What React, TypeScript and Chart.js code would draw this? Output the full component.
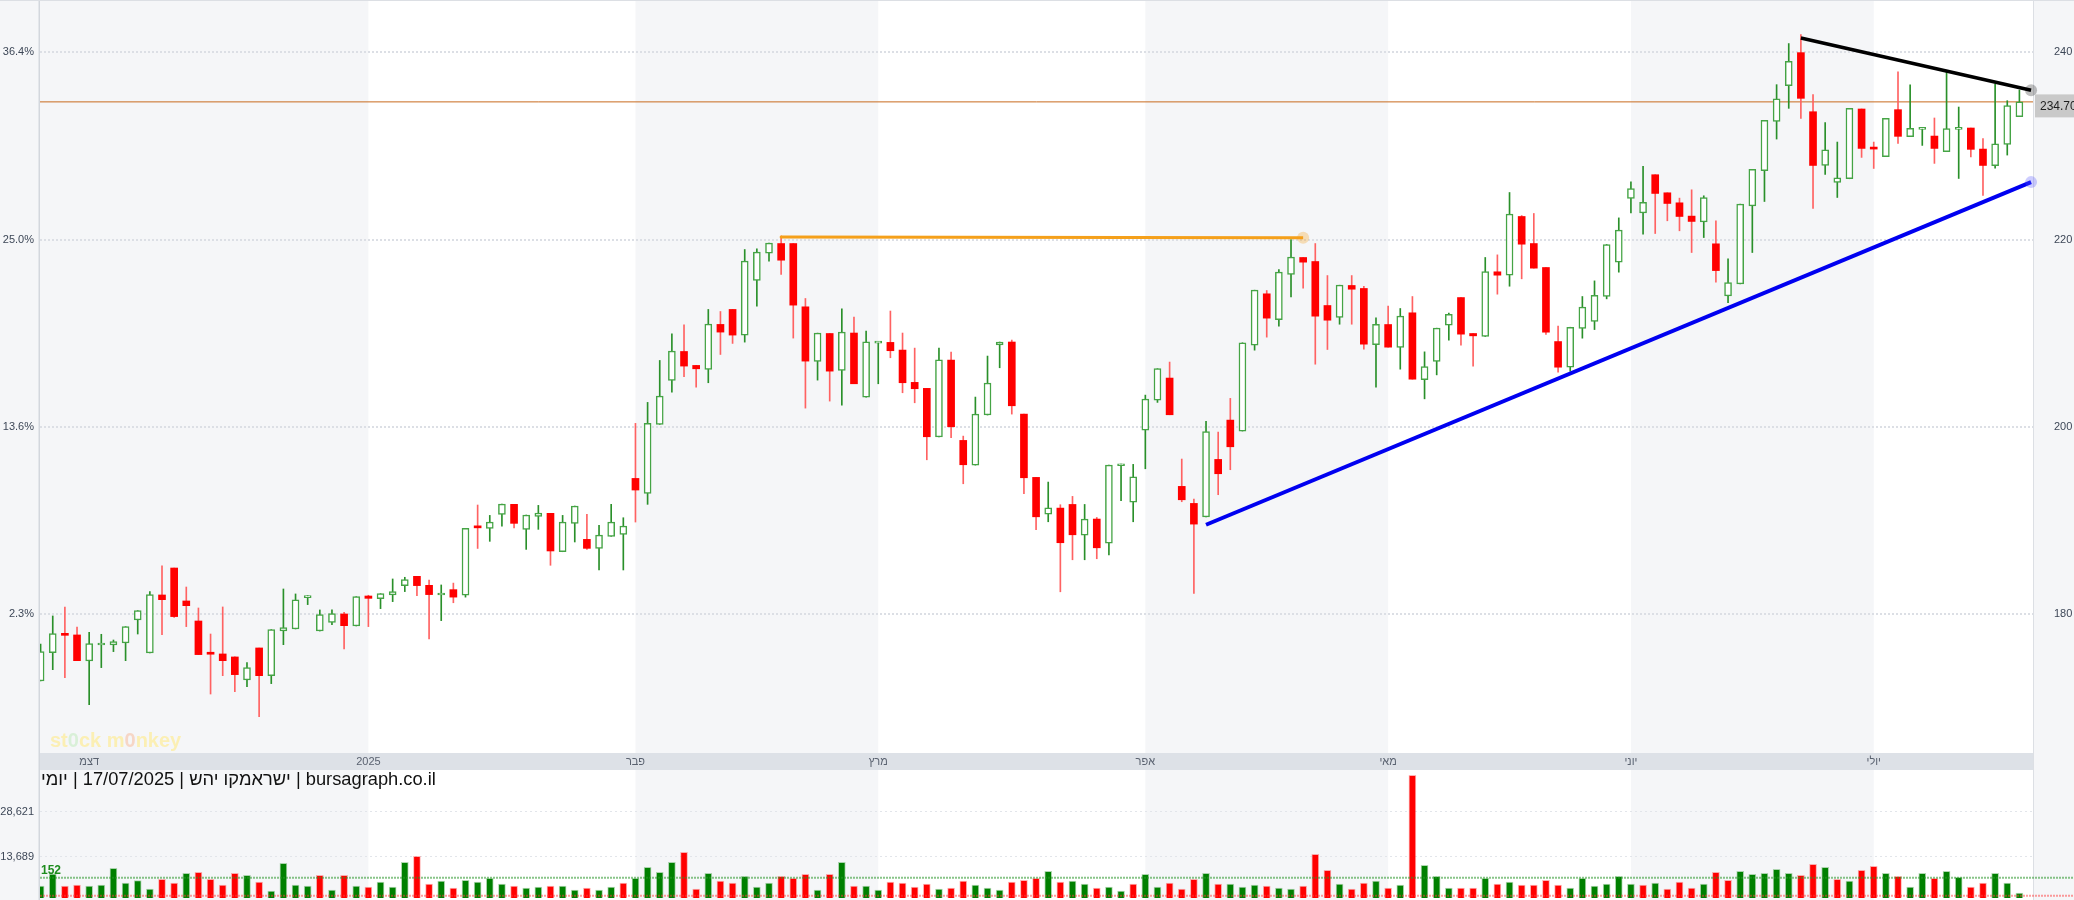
import React, { useEffect, useRef } from "react";
import { Chart, registerables } from "chart.js";

Chart.register(...registerables);

const FONT = "'Liberation Sans', Arial, 'DejaVu Sans', sans-serif";

// ---- data (daily candles, index 0 = late Nov 2024, last = 17/07/2025) ----
const OPEN = [172.84,175.87,177.86,177.76,174.98,176.69,176.69,176.90,179.36,175.83,
182.03,184.91,181.39,179.25,175.76,175.73,175.41,172.95,176.37,173.41,
178.18,178.40,181.75,178.18,179.11,180.00,178.72,181.92,181.64,182.03,
183.03,184.02,183.06,182.03,182.60,182.00,189.30,189.15,190.64,191.71,
189.04,190.43,190.75,186.65,189.68,187.97,187.01,188.29,188.50,194.48,
192.88,200.25,204.95,208.04,206.55,206.12,210.93,212.53,209.79,215.62,
218.54,219.57,219.57,212.81,206.98,209.96,206.01,210.01,203.17,208.94,
209.01,208.19,204.74,204.10,198.90,207.12,198.54,195.90,201.25,208.73,
209.05,201.35,194.59,190.67,191.31,191.70,188.43,190.14,187.57,195.83,
191.95,199.64,202.85,205.20,193.63,191.81,190.38,196.51,200.71,199.54,
208.71,214.20,211.45,216.26,218.08,217.65,212.95,211.67,215.09,214.77,
208.78,210.92,208.46,212.17,205.04,206.97,210.85,213.80,209.96,209.64,
216.55,216.19,222.46,219.57,217.01,209.10,206.36,210.49,211.24,213.91,
217.58,224.38,222.85,226.92,224.99,223.92,222.50,221.89,219.54,213.98,
215.26,223.60,227.34,232.62,236.43,239.96,233.65,227.91,226.10,226.49,
233.94,229.80,228.84,233.87,230.98,231.76,231.05,229.38,231.76,231.91,
229.66,227.88,230.16,233.12];

const HIGH = [176.79,179.79,180.75,178.61,178.04,177.83,177.22,178.65,180.36,182.39,
185.13,184.91,182.88,180.64,177.86,180.75,175.41,174.80,176.37,178.33,
182.67,182.14,181.96,180.43,180.43,180.18,181.85,182.00,182.17,183.74,
183.92,184.02,183.63,183.10,183.30,189.15,191.64,190.53,191.74,191.71,
190.57,191.60,190.75,190.53,191.53,190.64,189.47,191.71,190.28,200.36,
202.60,207.08,209.93,210.89,206.55,212.53,212.31,212.53,218.93,219.00,
219.61,220.36,219.57,213.70,210.00,209.96,212.60,211.72,210.22,209.05,
212.36,210.01,208.40,204.10,208.40,207.98,199.00,203.17,207.55,209.05,
209.26,201.35,194.59,194.09,191.67,192.56,191.70,190.31,195.90,196.01,
195.98,203.38,206.20,206.91,196.55,192.27,200.57,199.43,203.03,208.97,
214.59,214.55,216.79,220.00,218.08,219.57,216.15,215.12,216.15,215.01,
211.63,212.88,212.63,213.91,208.00,210.53,212.13,213.80,209.96,218.08,
218.36,225.02,222.56,222.78,217.01,210.74,210.63,213.91,215.58,219.47,
222.31,226.16,227.81,226.92,224.99,224.42,225.31,224.67,222.00,217.93,
223.78,227.49,232.73,236.54,240.93,241.89,235.47,232.48,230.41,234.01,
233.94,230.41,232.94,237.90,236.51,231.98,232.98,237.86,234.15,231.91,
230.77,236.61,234.83,235.97];

const LOW = [172.84,174.05,173.20,175.01,170.31,174.27,175.98,175.01,177.86,175.83,
177.79,179.64,178.65,175.66,171.45,173.41,171.70,172.24,169.03,172.56,
176.72,178.40,181.00,178.18,178.86,176.26,178.72,178.65,180.57,181.32,
182.39,181.96,177.33,179.29,181.20,181.80,187.00,187.76,189.39,189.18,
186.90,189.04,185.20,186.65,187.69,186.90,184.70,188.29,184.70,189.82,
191.71,200.25,203.70,205.34,204.23,204.70,207.72,208.90,209.04,212.88,
217.69,216.26,209.47,201.99,204.98,202.74,202.31,204.59,203.17,204.59,
207.37,203.63,202.56,196.47,198.90,198.82,193.91,195.90,201.25,206.30,
201.35,192.84,189.00,189.85,182.37,185.79,185.79,185.90,186.32,192.09,
189.85,195.51,202.60,201.28,191.99,182.19,190.38,192.74,195.41,199.54,
208.18,209.57,210.74,213.87,214.80,206.68,208.25,210.95,210.95,208.28,
204.22,208.50,206.15,205.08,202.98,205.54,209.25,208.71,206.47,209.64,
214.16,215.01,215.80,216.94,209.85,205.83,205.93,209.46,210.38,213.66,
216.51,222.85,220.57,220.64,222.00,220.93,218.61,220.21,215.44,213.26,
215.26,218.61,224.06,230.73,234.01,232.94,223.32,226.95,224.49,226.49,
228.77,227.59,228.84,230.27,230.98,230.05,228.13,229.38,226.52,228.81,
224.71,227.63,229.02,233.12];

const CLOSE = [175.98,177.90,177.72,175.01,176.83,176.83,177.04,178.65,180.36,182.07,
181.53,179.72,180.89,175.66,175.70,175.01,173.52,174.27,173.41,178.33,
178.54,181.50,181.85,179.93,180.04,178.75,181.85,181.67,182.17,182.39,
183.67,183.03,182.07,182.17,181.80,189.15,189.20,189.82,191.74,189.68,
190.57,190.78,186.73,189.82,191.53,187.01,188.43,189.82,189.40,193.24,
200.36,203.27,208.08,206.48,206.19,210.96,210.11,209.79,217.69,218.65,
219.61,217.79,212.99,207.01,210.00,205.94,210.11,204.59,209.08,209.05,
208.12,204.70,204.06,198.93,207.16,200.00,195.94,201.35,204.67,209.05,
202.24,194.55,190.38,191.35,187.61,188.46,190.14,187.07,195.90,196.01,
194.66,202.96,206.20,201.28,192.20,189.60,199.47,194.98,197.86,208.97,
214.59,211.60,216.51,218.11,217.58,211.81,211.38,215.12,214.69,208.82,
210.95,208.50,211.81,205.08,206.43,210.53,212.02,209.89,209.71,216.58,
216.19,222.71,219.50,216.94,210.10,206.36,210.63,212.77,214.05,219.47,
221.00,225.45,223.96,224.92,223.85,222.46,221.93,224.49,216.68,215.40,
223.78,227.49,232.73,235.04,239.04,235.08,227.91,229.59,226.60,234.01,
229.73,229.66,232.94,231.02,231.87,231.98,229.73,231.84,231.98,229.63,
227.91,230.23,234.30,234.70];

const VOLUME = [3970,7950,3970,4300,3970,4300,9830,4970,5740,2980,
6180,4970,8170,8500,6180,4300,8170,7510,5300,2310,
11490,4300,3970,7510,2640,7510,3970,3640,5300,3640,
11820,13810,4640,5630,3310,5850,5300,6510,4640,3970,
3310,3640,3970,3970,2640,3310,2640,3640,4970,6510,
10160,8500,11820,15140,2980,8170,5630,4970,7180,3640,
4970,7180,6510,7840,2640,7840,11820,3970,3970,2640,
5300,4970,3640,4640,2980,3310,5630,4300,3310,2640,
5300,5850,6510,8840,5300,5630,4640,3310,3640,2310,
4640,7840,3640,4970,2980,6180,8170,4640,4640,3640,
4300,3970,3310,2980,3970,14480,9170,4640,2980,4970,
5630,3310,4300,40690,10830,7180,3310,3310,3310,6510,
4640,5300,4300,4300,5850,4300,3310,6510,3970,4640,
7180,4640,4300,4970,2980,5300,3310,4640,8500,5850,
8840,7840,8170,9500,8170,7510,11160,10160,6180,5630,
9170,10500,8170,7180,3640,8170,6510,8840,6850,3640,
4970,8170,4970,1650];

// volume bar colour: g = close above previous close, r = below
const VOLUME_DIR = ("ggrrgggggg" + "rrgrrrrgrg" + "gggrgrgrgg" + "grrgrggggr" + "ggrggrggrg" +
  "gggrrgrrgg" + "grrrgrgrgg" + "rrrrgrrggg" + "rrrgrggrgg" + "rggrrrgrgg" + "grggrrrgrr" +
  "grgrgggrrg" + "rgrrrrgggg" + "ggrgrrrgrr" + "gggggrrgrg" + "rrgrggrggr" + "rggg").split("");

const MONTH_TICKS = [4, 27, 49, 69, 91, 111, 131, 151];
const MONTH_LABELS = ["דצמ", "2025", "פבר", "מרץ", "אפר", "מאי", "יוני", "יולי"];
const SHADED_MONTHS = [[-1, 27], [49, 69], [91, 111], [131, 151]];
const PRICE_TICKS = [180, 200, 220, 240];
const BASE_PRICE = 176;
const VOLUME_TICKS = [13689, 28621];
const LAST_PRICE = 234.7;
const VOLUME_AVG = 6735;
const VOLUME_LOW = 760;
const ORANGE_LINE = [{ x: 61, y: 220.28 }, { x: 104, y: 220.2 }];
const BLUE_LINE = [{ x: 96, y: 189.53 }, { x: 163.96, y: 226.13 }];
const BLACK_LINE = [{ x: 145, y: 241.53 }, { x: 163.96, y: 235.94 }];

const X_MIN = -0.05;
const X_MAX = 164.12;

const SHADE = "#f5f6f8";
const STRIP = "#dde1e7";
const AXIS_TEXT = "#3d4757";

function paintBackground(chart: any, bottom: number) {
  const { ctx, chartArea: ca, scales } = chart;
  const x = scales.x;
  ctx.save();
  ctx.fillStyle = SHADE;
  ctx.fillRect(0, 0, chart.width, chart.height);
  ctx.fillStyle = "#ffffff";
  ctx.fillRect(ca.left, 0, ca.right - ca.left, bottom);
  ctx.fillStyle = SHADE;
  for (const [a, b] of SHADED_MONTHS) {
    const x1 = Math.max(ca.left, x.getPixelForValue(a));
    const x2 = Math.min(ca.right, x.getPixelForValue(b));
    if (x2 > x1) ctx.fillRect(x1, 0, x2 - x1, bottom);
  }
  ctx.fillStyle = "#d3d7dd";
  ctx.fillRect(ca.left - 1.5, 0, 1.5, chart.height);
  ctx.fillStyle = "#dcdfe4";
  ctx.fillRect(ca.right, 0, 1, chart.height);
  ctx.restore();
}

function noPad(s: any) {
  s.paddingTop = 0;
  s.paddingBottom = 0;
  s.paddingLeft = 0;
  s.paddingRight = 0;
}

export default function App() {
  const priceRef = useRef<HTMLCanvasElement>(null);
  const volRef = useRef<HTMLCanvasElement>(null);

  useEffect(() => {
    Chart.defaults.font.family = FONT;
    const idx = CLOSE.map((_, i) => i);
    const up = idx.map((i) => CLOSE[i] >= OPEN[i]);

    const priceBg = {
      id: "priceBg",
      beforeDraw(chart: any) {
        paintBackground(chart, chart.chartArea.bottom);
        const { ctx } = chart;
        ctx.save();
        ctx.fillStyle = "#dcdfe4";
        ctx.fillRect(0, 0, chart.width, 1);
        ctx.restore();
      },
      beforeDatasetsDraw(chart: any) {
        const { ctx, chartArea: ca, scales } = chart;
        const y = scales.y.getPixelForValue(LAST_PRICE);
        ctx.save();
        ctx.strokeStyle = "#c86a1e";
        ctx.lineWidth = 1;
        ctx.beginPath();
        ctx.moveTo(ca.left, y);
        ctx.lineTo(ca.right, y);
        ctx.stroke();
        ctx.restore();
      },
      afterDraw(chart: any) {
        const { ctx, chartArea: ca, scales } = chart;
        const y = scales.y.getPixelForValue(LAST_PRICE);
        ctx.save();
        ctx.fillStyle = "#c9c9c9";
        ctx.fillRect(ca.right + 2, y - 7.5, chart.width - ca.right - 2, 23);
        ctx.fillStyle = "#1f1f1f";
        ctx.font = "12px " + FONT;
        ctx.textAlign = "left";
        ctx.textBaseline = "middle";
        ctx.fillText(LAST_PRICE.toFixed(2), ca.right + 7, y + 4.5);
        ctx.restore();
      },
    };

    const price = new Chart(priceRef.current as HTMLCanvasElement, {
      type: "bar",
      data: {
        datasets: [
          {
            type: "line",
            data: ORANGE_LINE,
            borderColor: "#f5a01a",
            borderWidth: 3,
            pointRadius: [1.5, 6],
            pointBackgroundColor: ["#f5a01a", "rgba(245,160,26,0.3)"],
            pointBorderWidth: 0,
            clip: false,
            order: 0,
          } as any,
          {
            type: "line",
            data: BLUE_LINE,
            borderColor: "#0000f0",
            borderWidth: 4,
            pointRadius: [0, 6],
            pointBackgroundColor: ["#0000f0", "rgba(90,90,255,0.3)"],
            pointBorderWidth: 0,
            clip: false,
            order: 0,
          } as any,
          {
            type: "line",
            data: BLACK_LINE,
            borderColor: "#000000",
            borderWidth: 3.5,
            pointRadius: [0, 6],
            pointBackgroundColor: ["#000000", "rgba(0,0,0,0.25)"],
            pointBorderWidth: 0,
            clip: false,
            order: 0,
          } as any,
          {
            data: idx.map((i) => ({ x: i, y: [OPEN[i], CLOSE[i]] })),
            backgroundColor: idx.map((i) => (up[i] ? "#ffffff" : "#ff0000")),
            borderColor: idx.map((i) => (up[i] ? "#45a445" : "#ff0000")),
            borderWidth: idx.map((i) => (up[i] ? 1.5 : 0)),
            borderSkipped: false,
            barThickness: 7,
            minBarLength: 2,
            grouped: false,
            order: 1,
          } as any,
          {
            data: idx.map((i) => ({ x: i, y: [LOW[i], HIGH[i]] })),
            backgroundColor: idx.map((i) => (up[i] ? "#2a902a" : "#ff6262")),
            borderWidth: 0,
            barThickness: 1,
            grouped: false,
            order: 2,
          } as any,
        ],
      },
      options: {
        responsive: false,
        animation: false,
        devicePixelRatio: 1,
        events: [],
        layout: { autoPadding: false, padding: { top: 2, left: 0, right: 0, bottom: 0 } },
        plugins: { legend: { display: false }, tooltip: { enabled: false } },
        scales: {
          x: {
            type: "linear",
            min: X_MIN,
            max: X_MAX,
            offset: false,
            backgroundColor: STRIP,
            grid: { display: false, drawTicks: false, offset: false },
            border: { display: false },
            afterBuildTicks: (s: any) => {
              s.ticks = MONTH_TICKS.map((v) => ({ value: v }));
            },
            afterFit: (s: any) => {
              s.height = 17;
              noPad(s);
            },
            ticks: {
              autoSkip: false,
              maxRotation: 0,
              padding: 2,
              color: "#5a6270",
              font: { size: 11 },
              callback: (v: any) => MONTH_LABELS[MONTH_TICKS.indexOf(Number(v))] ?? "",
            },
          },
          y: {
            type: "linear",
            position: "right",
            min: 165.15,
            max: 245.37,
            grid: { color: "#dcdfe5", lineWidth: 2, drawTicks: false },
            border: { display: false, dash: [2, 2] },
            afterBuildTicks: (s: any) => {
              s.ticks = PRICE_TICKS.map((v) => ({ value: v }));
            },
            afterFit: (s: any) => {
              s.width = 41;
              noPad(s);
            },
            ticks: {
              crossAlign: "near",
              padding: 21,
              color: AXIS_TEXT,
              font: { size: 11 },
              callback: (v: any) => String(v),
            },
          },
          yl: {
            type: "linear",
            position: "left",
            min: 165.15,
            max: 245.37,
            grid: { display: false, drawTicks: false },
            border: { display: false },
            afterBuildTicks: (s: any) => {
              s.ticks = PRICE_TICKS.map((v) => ({ value: v }));
            },
            afterFit: (s: any) => {
              s.width = 40;
              noPad(s);
            },
            ticks: {
              padding: 6,
              color: AXIS_TEXT,
              font: { size: 11 },
              callback: (v: any) => ((Number(v) / BASE_PRICE - 1) * 100).toFixed(1) + "%",
            },
          },
        },
      } as any,
      plugins: [priceBg],
    });

    const volBg = {
      id: "volBg",
      beforeDraw(chart: any) {
        paintBackground(chart, chart.height);
      },
      afterDatasetsDraw(chart: any) {
        const { ctx, chartArea: ca, scales } = chart;
        ctx.save();
        ctx.lineWidth = 2;
        ctx.setLineDash([2, 1]);
        const yAvg = scales.y.getPixelForValue(VOLUME_AVG);
        ctx.strokeStyle = "rgba(40,150,40,0.55)";
        ctx.beginPath();
        ctx.moveTo(ca.left, yAvg);
        ctx.lineTo(chart.width, yAvg);
        ctx.stroke();
        const yLow = scales.y.getPixelForValue(VOLUME_LOW);
        ctx.strokeStyle = "rgba(255,60,60,0.5)";
        ctx.beginPath();
        ctx.moveTo(ca.left, yLow);
        ctx.lineTo(chart.width, yLow);
        ctx.stroke();
        ctx.restore();
      },
    };

    const vol = new Chart(volRef.current as HTMLCanvasElement, {
      type: "bar",
      data: {
        datasets: [
          {
            data: idx.map((i) => ({ x: i, y: VOLUME[i] })),
            backgroundColor: idx.map((i) => (VOLUME_DIR[i] === "g" ? "#008000" : "#ff0000")),
            borderColor: idx.map((i) => (VOLUME_DIR[i] === "g" ? "rgba(0,128,0,0.3)" : "rgba(255,0,0,0.3)")),
            borderWidth: 1,
            barThickness: 7,
            grouped: false,
          } as any,
        ],
      },
      options: {
        responsive: false,
        animation: false,
        devicePixelRatio: 1,
        events: [],
        layout: { autoPadding: false, padding: { top: 4, left: 0, right: 41, bottom: 2 } },
        plugins: { legend: { display: false }, tooltip: { enabled: false } },
        scales: {
          x: {
            type: "linear",
            min: X_MIN,
            max: X_MAX,
            offset: false,
            display: false,
            grid: { offset: false },
          },
          y: {
            type: "linear",
            position: "left",
            min: 0,
            max: 41143,
            grid: { color: "#e2e5ea", lineWidth: 1, drawTicks: false },
            border: { display: false, dash: [2, 3] },
            afterBuildTicks: (s: any) => {
              s.ticks = VOLUME_TICKS.map((v) => ({ value: v }));
            },
            afterFit: (s: any) => {
              s.width = 40;
              noPad(s);
            },
            ticks: {
              padding: 6,
              color: AXIS_TEXT,
              font: { size: 11 },
              callback: (v: any) => Number(v).toLocaleString("en-US"),
            },
          },
        },
      } as any,
      plugins: [volBg],
    });

    return () => {
      price.destroy();
      vol.destroy();
    };
  }, []);

  const titleParts = ["יומי", " | ", "17/07/2025", " | ", "ישראמקו יהש", " | ", "bursagraph.co.il"];

  return (
    <div
      style={{
        position: "absolute",
        left: 0,
        top: 0,
        width: 2074,
        height: 900,
        overflow: "hidden",
        background: "#ffffff",
        fontFamily: FONT,
      }}
    >
      <canvas ref={priceRef} width={2074} height={770} style={{ position: "absolute", left: 0, top: 0, display: "block" }} />
      <canvas ref={volRef} width={2074} height={130} style={{ position: "absolute", left: 0, top: 770, display: "block" }} />
      <div
        style={{
          position: "absolute",
          left: 50,
          top: 729,
          fontSize: 20,
          fontWeight: 700,
          lineHeight: "22px",
          color: "#fbefb4",
          whiteSpace: "pre",
        }}
      >
        <span>st</span>
        <span style={{ color: "#d9f0d8" }}>0</span>
        <span>ck m</span>
        <span style={{ color: "#f6d6c6" }}>0</span>
        <span>nkey</span>
      </div>
      <div
        style={{
          position: "absolute",
          left: 41,
          top: 769,
          fontSize: 18.3,
          lineHeight: "19px",
          color: "#111111",
          display: "flex",
          whiteSpace: "pre",
        }}
      >
        {titleParts.map((p, i) => (
          <span key={i}>{p}</span>
        ))}
      </div>
      <div
        style={{
          position: "absolute",
          left: 41,
          top: 864,
          fontSize: 12,
          fontWeight: 700,
          lineHeight: "12px",
          color: "#1e8c1e",
        }}
      >
        152
      </div>
    </div>
  );
}
